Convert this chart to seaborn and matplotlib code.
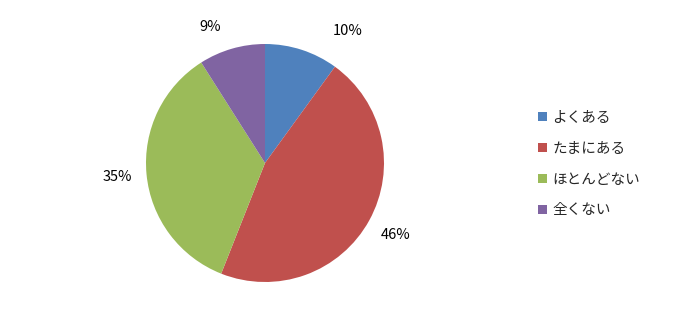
import matplotlib
matplotlib.use("Agg")
import matplotlib.pyplot as plt
import seaborn as sns
import numpy as np

sns.set_theme(style="white")
plt.rcParams['font.family'] = ['Noto Sans CJK JP', 'DejaVu Sans']

categories = ["よくある", "たまにある", "ほとんどない", "全くない"]
values = [10, 46, 35, 9]
pct_labels = ["10%", "46%", "35%", "9%"]
colors = ["#4F81BD", "#C0504D", "#9BBB59", "#8064A2"]

fig = plt.figure(figsize=(6.74, 3.25), dpi=100)
ax = fig.add_axes([146/674, 43/325, 238/674, 238/325])
wedges, texts = ax.pie(values, colors=colors, startangle=90, counterclock=False,
                       labels=pct_labels, labeldistance=1.25,
                       textprops=dict(fontsize=10.5, color="black", ha="center", va="center"),
                       wedgeprops=dict(linewidth=0))
for t in texts:
    t.set_ha("center")
# Excel best-fit label placement adjustments
for idx, (deg, r) in {0: (58, 1.31), 3: (112, 1.23)}.items():
    a = np.deg2rad(deg)
    texts[idx].set_position((r*np.cos(a), r*np.sin(a)))
ax.set_xlim(-1, 1)
ax.set_ylim(-1, 1)
ax.set_aspect("equal")

fig.legend(wedges, categories, loc="center left", bbox_to_anchor=(532/674, 0.495),
           frameon=False, fontsize=10.5, handlelength=0.6, handleheight=0.6,
           handletextpad=0.4, labelspacing=1.15, borderaxespad=0)

fig.savefig("out.png", dpi=100)
